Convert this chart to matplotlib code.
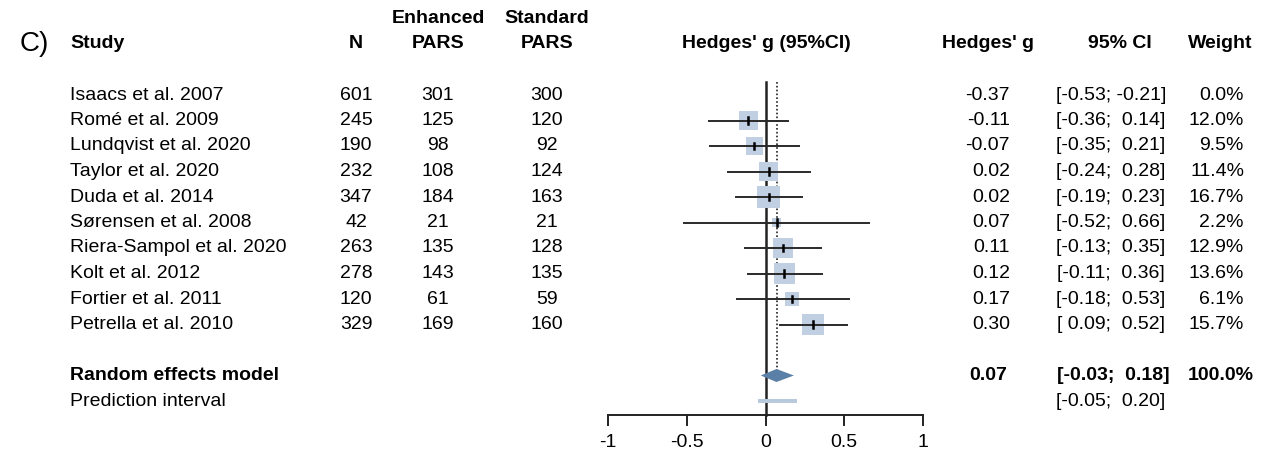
import numpy as np
import matplotlib
matplotlib.use("Agg")
from matplotlib import pyplot as plt
from matplotlib import transforms
from matplotlib.patches import Rectangle, Polygon

plt.rcParams['font.family'] = ['Liberation Sans', 'DejaVu Sans']

studies = ["Isaacs et al. 2007", "Romé et al. 2009", "Lundqvist et al. 2020",
           "Taylor et al. 2020", "Duda et al. 2014", "Sørensen et al. 2008",
           "Riera-Sampol et al. 2020", "Kolt et al. 2012", "Fortier et al. 2011",
           "Petrella et al. 2010"]
n_total = [601, 245, 190, 232, 347, 42, 263, 278, 120, 329]
n_enh = [301, 125, 98, 108, 184, 21, 135, 143, 61, 169]
n_std = [300, 120, 92, 124, 163, 21, 128, 135, 59, 160]
g = [-0.37, -0.11, -0.07, 0.02, 0.02, 0.07, 0.11, 0.12, 0.17, 0.30]
ci_lo = [-0.53, -0.36, -0.35, -0.24, -0.19, -0.52, -0.13, -0.11, -0.18, 0.09]
ci_hi = [-0.21, 0.14, 0.21, 0.28, 0.23, 0.66, 0.35, 0.36, 0.53, 0.52]
weight = [0.0, 12.0, 9.5, 11.4, 16.7, 2.2, 12.9, 13.6, 6.1, 15.7]

re_g, re_lo, re_hi = 0.07, -0.03, 0.18
pi_lo, pi_hi = -0.05, 0.20
xticks = [-1, -0.5, 0, 0.5, 1]
xticklabels = ["-1", "-0.5", "0", "0.5", "1"]

W, H = 1266, 457
fig = plt.figure(figsize=(W / 100, H / 100), dpi=100)

# forest panel: x -1..1 spans pixels 608..923, rows are 25.5 px apart
row_px = 25.5
top_row = (0 - 95) / row_px + 1
bot_row = (415 - 95) / row_px + 1
ax = fig.add_axes([608 / W, (H - 415) / H, (923 - 608) / W, 415 / H])
ax.set_xlim(-1, 1)
ax.set_ylim(bot_row, top_row)
for s in ["top", "left", "right"]:
    ax.spines[s].set_visible(False)
ax.spines["bottom"].set_linewidth(1.4)
ax.spines["bottom"].set_color("#222222")
ax.set_yticks([])
ax.set_xticks(xticks)
ax.set_xticklabels(xticklabels, fontsize=14)
ax.tick_params(axis="x", length=8, width=1.4, pad=6, color="#222222")

px_x = 315 / 2.0  # pixels per x unit
rows = np.arange(1, len(studies) + 1)
re_row = len(studies) + 2
pi_row = re_row + 1
line_top = (82 - 95) / row_px + 1

ax.plot([0, 0], [line_top, bot_row], color="#222222", lw=1.8, clip_on=False)
ax.plot([re_g, re_g], [line_top, re_row], color="#222222", lw=1.2,
        ls=(0, (1.0, 1.3)))

for r, gi, lo, hi, w in zip(rows, g, ci_lo, ci_hi, weight):
    if w <= 0:
        continue
    side = 5.55 * np.sqrt(w)
    ax.add_patch(Rectangle((gi - side / 2 / px_x, r - side / 2 / row_px),
                           side / px_x, side / row_px, facecolor="#c0d0e2",
                           edgecolor="none", zorder=2))
    ax.plot([lo, hi], [r, r], color="#2a2a2a", lw=1.4, zorder=3)
    ax.plot([gi, gi], [r - 0.13, r + 0.13], color="black", lw=1.8, zorder=4)

dh = 6.5 / row_px
ax.add_patch(Polygon([(re_lo, re_row), (re_g, re_row - dh), (re_hi, re_row),
                      (re_g, re_row + dh)], closed=True, facecolor="#5a80a8",
                     edgecolor="none", zorder=3))
ax.add_patch(Rectangle((pi_lo, pi_row - 2.3 / row_px), pi_hi - pi_lo, 4.6 / row_px,
                       facecolor="#b9cadd", edgecolor="none", zorder=3))

tr = transforms.blended_transform_factory(fig.transFigure, ax.transData)
fs = 14


def txt(xpx, row, s, ha="left", weight="normal", size=fs):
    ax.text(xpx / W, row, s, transform=tr, ha=ha, va="center",
            fontsize=size, fontweight=weight, clip_on=False)


# headers
hr = -1
txt(20, hr, "C)", size=20)
txt(70, hr, "Study", weight="bold")
txt(356, hr, "N", ha="center", weight="bold")
txt(438, hr - 1, "Enhanced", ha="center", weight="bold")
txt(438, hr, "PARS", ha="center", weight="bold")
txt(547, hr - 1, "Standard", ha="center", weight="bold")
txt(547, hr, "PARS", ha="center", weight="bold")
txt(766, hr, "Hedges' g (95%CI)", ha="center", weight="bold")
txt(988, hr, "Hedges' g", ha="center", weight="bold")
txt(1120, hr, "95% CI", ha="center", weight="bold")
txt(1220, hr, "Weight", ha="center", weight="bold")

for r, name, n, ne, ns, gi, lo, hi, w in zip(rows, studies, n_total, n_enh, n_std,
                                             g, ci_lo, ci_hi, weight):
    txt(70, r, name)
    txt(356, r, str(n), ha="center")
    txt(438, r, str(ne), ha="center")
    txt(547, r, str(ns), ha="center")
    txt(1010, r, f"{gi:.2f}", ha="right")
    txt(1111, r, f"[{lo:5.2f}; {hi:5.2f}]", ha="center")
    txt(1244, r, f"{w:.1f}%", ha="right")

txt(70, re_row, "Random effects model", weight="bold")
txt(1007, re_row, f"{re_g:.2f}", ha="right", weight="bold")
txt(1113, re_row, f"[{re_lo:5.2f}; {re_hi:5.2f}]", ha="center", weight="bold")
txt(1254, re_row, "100.0%", ha="right", weight="bold")
txt(70, pi_row, "Prediction interval")
txt(1111, pi_row, f"[{pi_lo:5.2f}; {pi_hi:5.2f}]", ha="center")

fig.savefig("out.png", dpi=100)
